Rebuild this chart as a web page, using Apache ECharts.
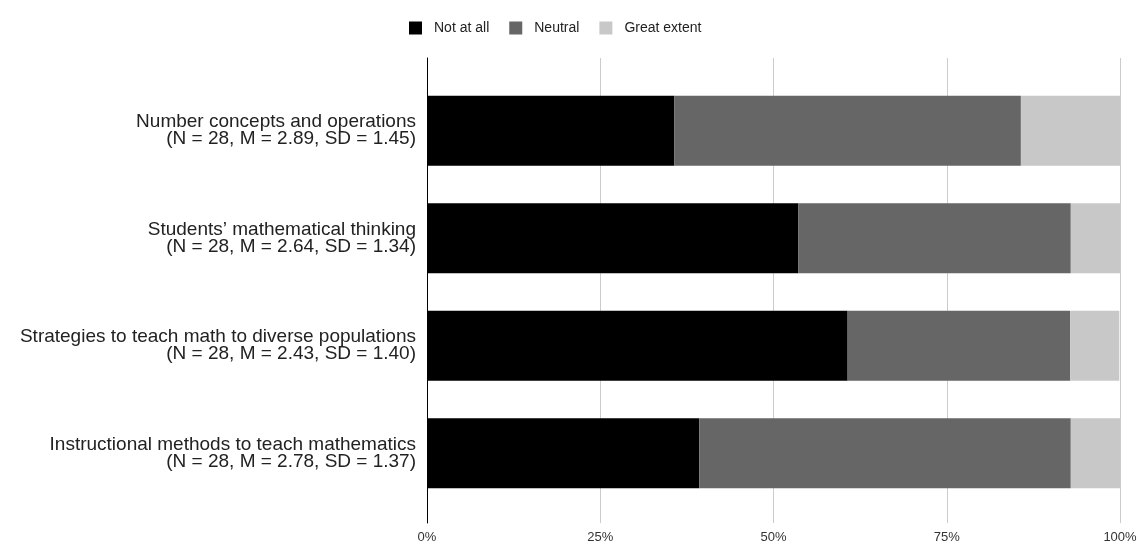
<!DOCTYPE html>
<html>
<head>
<meta charset="utf-8">
<script src="https://cdn.jsdelivr.net/npm/echarts@6/dist/echarts.min.js"></script>
<style>
  html, body { margin: 0; padding: 0; background: #fff; }
  #chart { width: 1140px; height: 546px; }
</style>
</head>
<body>
<div id="chart"></div>
<script>
// Survey items (top to bottom)
const categories = [
  'Number concepts and operations\n(N = 28, M = 2.89, SD = 1.45)',
  'Students\u2019 mathematical thinking\n(N = 28, M = 2.64, SD = 1.34)',
  'Strategies to teach math to diverse populations\n(N = 28, M = 2.43, SD = 1.40)',
  'Instructional methods to teach mathematics\n(N = 28, M = 2.78, SD = 1.37)'
];

// Share of responses per item, in percent
const notAtAll    = [35.7, 53.6, 60.7, 39.3];
const neutral     = [50.0, 39.3, 32.1, 53.6];
const greatExtent = [14.3, 7.1, 7.1, 7.1];

const seriesNames = ['Not at all', 'Neutral', 'Great extent'];
const seriesColors = ['#000000', '#666666', '#c8c8c8'];
const xTicks = [0, 25, 50, 75, 100];

const FONT = '"Liberation Sans", Arial, Helvetica, sans-serif';

const chart = echarts.init(document.getElementById('chart'));

const values = [notAtAll, neutral, greatExtent];

chart.setOption({
  animation: false,
  textStyle: { fontFamily: FONT },
  legend: {
    top: 16,
    left: 404,
    itemWidth: 13,
    itemHeight: 13,
    itemGap: 20,
    icon: 'rect',
    textStyle: { fontSize: 14, color: '#222', fontFamily: FONT, padding: [0, 0, 0, 7] },
    data: seriesNames
  },
  grid: [
    // grid holding the gridlines and tick labels
    { left: 427, right: 20, top: 58, bottom: 23 },
    // grid holding the bars and category labels
    { left: 427, right: 20, top: 77, bottom: 39 }
  ],
  xAxis: [
    {
      gridIndex: 0,
      type: 'value',
      min: xTicks[0],
      max: xTicks[xTicks.length - 1],
      interval: 25,
      axisLine: { show: false },
      axisTick: { show: false },
      splitLine: { show: true, lineStyle: { color: '#cccccc', width: 1 } },
      axisLabel: {
        formatter: '{value}%',
        fontSize: 13,
        color: '#333',
        margin: 8,
        fontFamily: FONT
      }
    },
    {
      gridIndex: 1,
      type: 'value',
      min: 0,
      max: 100,
      show: false
    }
  ],
  yAxis: [
    {
      gridIndex: 0,
      type: 'value',
      min: 0,
      max: 1,
      axisLine: { show: true, lineStyle: { color: '#000', width: 1 } },
      axisTick: { show: false },
      axisLabel: { show: false },
      splitLine: { show: false }
    },
    {
      gridIndex: 1,
      type: 'category',
      inverse: true,
      data: categories,
      axisLine: { show: false },
      axisTick: { show: false },
      splitLine: { show: false },
      axisLabel: {
        fontSize: 19,
        lineHeight: 17,
        color: '#222',
        margin: 11,
        align: 'right',
        fontFamily: FONT
      }
    }
  ],
  series: seriesNames.map((name, i) => ({
    name: name,
    type: 'bar',
    stack: 'total',
    xAxisIndex: 1,
    yAxisIndex: 1,
    barWidth: 70,
    itemStyle: { color: seriesColors[i] },
    data: values[i]
  }))
});
</script>
</body>
</html>
